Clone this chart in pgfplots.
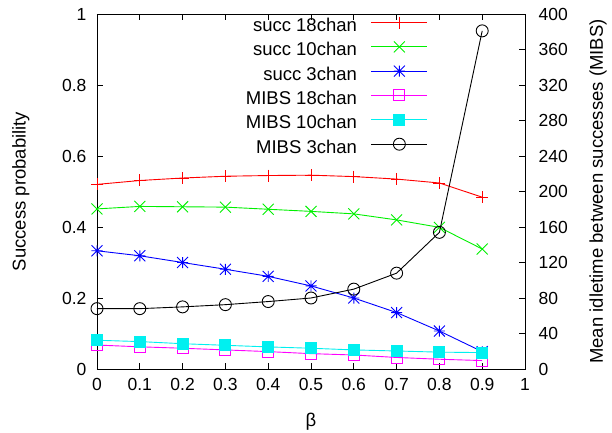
\documentclass[border=0pt]{standalone}
\usepackage{fontspec}
\setmainfont{Liberation Sans}
\usepackage{pgfplots}
\pgfplotsset{compat=1.18}
\pgfdeclareplotmark{gx}{%
  \pgfpathmoveto{\pgfqpoint{-\pgfplotmarksize}{-\pgfplotmarksize}}%
  \pgfpathlineto{\pgfqpoint{\pgfplotmarksize}{\pgfplotmarksize}}%
  \pgfpathmoveto{\pgfqpoint{-\pgfplotmarksize}{\pgfplotmarksize}}%
  \pgfpathlineto{\pgfqpoint{\pgfplotmarksize}{-\pgfplotmarksize}}%
  \pgfusepathqstroke}
\pgfdeclareplotmark{gstar}{%
  \pgfpathmoveto{\pgfqpoint{-\pgfplotmarksize}{-\pgfplotmarksize}}%
  \pgfpathlineto{\pgfqpoint{\pgfplotmarksize}{\pgfplotmarksize}}%
  \pgfpathmoveto{\pgfqpoint{-\pgfplotmarksize}{\pgfplotmarksize}}%
  \pgfpathlineto{\pgfqpoint{\pgfplotmarksize}{-\pgfplotmarksize}}%
  \pgfpathmoveto{\pgfqpoint{-\pgfplotmarksize}{0pt}}%
  \pgfpathlineto{\pgfqpoint{\pgfplotmarksize}{0pt}}%
  \pgfpathmoveto{\pgfqpoint{0pt}{\pgfplotmarksize}}%
  \pgfpathlineto{\pgfqpoint{0pt}{-\pgfplotmarksize}}%
  \pgfusepathqstroke}
\definecolor{gred}{RGB}{255,0,0}
\definecolor{ggreen}{RGB}{0,240,0}
\definecolor{gblue}{RGB}{0,0,255}
\definecolor{gmag}{RGB}{255,0,255}
\definecolor{gcyan}{RGB}{0,240,240}
\begin{document}
\begin{tikzpicture}
\useasboundingbox (-97pt,-63pt) rectangle (515pt,369pt);
\pgfplotsset{every axis/.append style={
  width=428pt, height=355pt, scale only axis,
  xmin=0, xmax=1,
  xtick={0,0.1,0.2,0.3,0.4,0.5,0.6,0.7,0.8,0.9,1},
  font=\fontsize{18.5}{22}\selectfont,
  tick label style={font=\fontsize{17.5}{20}\selectfont},
  tick align=inside,
  major tick length=6pt,
  /pgf/number format/assume math mode=true,
  every axis plot/.append style={line width=0.9pt},
  axis line style={line width=0.9pt},
  every tick/.style={black, line width=0.9pt},
}}
\begin{axis}[
  ymin=0, ymax=1, ytick={0,0.2,0.4,0.6,0.8,1},
  ytick pos=left, xtick pos=both,
  xticklabel style={yshift=-6pt},
  yticklabel style={xshift=-7pt},
  xlabel={β}, ylabel={Success probability},
  xlabel style={at={(axis description cs:0.5,-0.148)}, anchor=center},
  ylabel style={at={(axis description cs:-0.178,0.5)}, anchor=center},
]
\addplot[gred, mark=+, mark size=6pt] coordinates {
(0,0.520) (0.1,0.531) (0.2,0.538) (0.3,0.543) (0.4,0.545) (0.5,0.546) (0.6,0.542) (0.7,0.535) (0.8,0.524) (0.9,0.484)};
\addplot[ggreen, mark=gx, mark size=5.5pt] coordinates {
(0,0.451) (0.1,0.458) (0.2,0.457) (0.3,0.456) (0.4,0.450) (0.5,0.444) (0.6,0.437) (0.7,0.420) (0.8,0.399) (0.9,0.338)};
\addplot[gblue, mark=gstar, mark size=5.5pt] coordinates {
(0,0.333) (0.1,0.319) (0.2,0.300) (0.3,0.281) (0.4,0.261) (0.5,0.234) (0.6,0.200) (0.7,0.159) (0.8,0.107) (0.9,0.049)};
\end{axis}
\begin{axis}[
  ymin=0, ymax=400, ytick={0,40,80,120,160,200,240,280,320,360,400},
  axis x line=none, axis y line*=right,
  yticklabel style={xshift=10pt},
  ylabel={Mean idletime between successes (MIBS)},
  ylabel style={at={(axis description cs:1.1706,0.5)}, anchor=center},
  legend cell align=right, legend plot pos=right,
  legend style={draw=none, fill=none, at={(axis description cs:0.7734,0.993)}, anchor=north east,
    inner sep=0pt, row sep=5.7pt, column sep=14pt,
    nodes={inner sep=0pt, text height=13pt, text depth=4pt},
    font=\fontsize{18.5}{22}\selectfont},
  legend image code/.code={\draw[mark repeat=2,mark phase=2] plot coordinates {(0pt,4.5pt) (28pt,4.5pt) (56pt,4.5pt)};},
]
\addlegendimage{gred, mark=+, mark size=6pt}
\addlegendentry{succ 18chan}
\addlegendimage{ggreen, mark=gx, mark size=5.5pt}
\addlegendentry{succ 10chan}
\addlegendimage{gblue, mark=gstar, mark size=5.5pt}
\addlegendentry{succ 3chan}
\addplot[gmag, mark=square, mark size=5.5pt] coordinates {
(0,27) (0.1,25) (0.2,23.4) (0.3,21.5) (0.4,19.6) (0.5,17.3) (0.6,15.8) (0.7,13) (0.8,11) (0.9,9.5)};
\addlegendentry{MIBS 18chan}
\addplot[gcyan, mark=square*, mark size=5.5pt, mark options={fill=gcyan}] coordinates {
(0,32.4) (0.1,30.9) (0.2,28.5) (0.3,26.7) (0.4,24.9) (0.5,23.4) (0.6,21.5) (0.7,20.3) (0.8,19) (0.9,18.5)};
\addlegendentry{MIBS 10chan}
\addplot[black, mark=o, mark size=6pt] coordinates {
(0,68) (0.1,68) (0.2,70) (0.3,72.5) (0.4,76) (0.5,80) (0.6,90) (0.7,108) (0.8,154) (0.9,381)};
\addlegendentry{MIBS 3chan}
\end{axis}
\end{tikzpicture}
\end{document}
